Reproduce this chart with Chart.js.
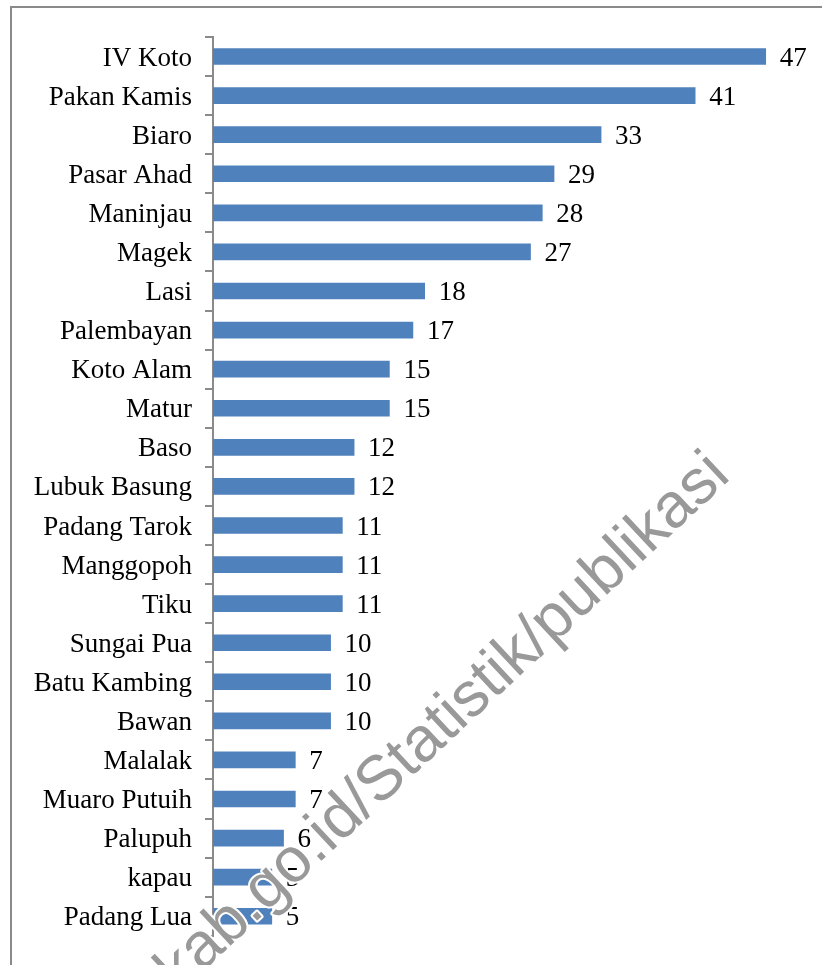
<!DOCTYPE html>
<html>
<head>
    <title>Jumlah per Nagari</title>
    <script src="https://cdn.jsdelivr.net/npm/chart.js"></script>
    <style>
        body { margin: 0; overflow: hidden; background: #fff; }
        #frame { position: absolute; left: 10px; top: 6px; width: 900px; height: 1000px; border: 2px solid #8a8a8a; }
        #wrap { position: absolute; left: 0; top: 0; width: 822px; height: 965px; }
    </style>
</head>
<body>
    <div id="frame"></div>
    <div id="wrap"><canvas id="myChart" width="822" height="965"></canvas></div>
    <script>
        const categories = ['IV Koto', 'Pakan Kamis', 'Biaro', 'Pasar Ahad', 'Maninjau', 'Magek', 'Lasi',
            'Palembayan', 'Koto Alam', 'Matur', 'Baso', 'Lubuk Basung', 'Padang Tarok', 'Manggopoh', 'Tiku',
            'Sungai Pua', 'Batu Kambing', 'Bawan', 'Malalak', 'Muaro Putuih', 'Palupuh', 'kapau', 'Padang Lua'];
        const values = [47, 41, 33, 29, 28, 27, 18, 17, 15, 15, 12, 12, 11, 11, 11, 10, 10, 10, 7, 7, 6, 5, 5];
        const watermark = 'agamkab.go.id/Statistik/publikasi';

        const serif = '"Liberation Serif", "Times New Roman", serif';

        // value labels at the end of each bar
        const valueLabels = {
            id: 'valueLabels',
            afterDatasetsDraw(chart) {
                const ctx = chart.ctx;
                const meta = chart.getDatasetMeta(0);
                ctx.save();
                ctx.font = '27px ' + serif;
                ctx.fillStyle = '#000';
                ctx.textAlign = 'left';
                ctx.textBaseline = 'middle';
                meta.data.forEach((bar, i) => {
                    ctx.fillText(values[i], bar.x + 14, bar.y + 2);
                });
                ctx.restore();
            }
        };

        const watermarkText = {
            id: 'watermarkText',
            afterDraw(chart) {
                const ctx = chart.ctx;
                ctx.save();
                ctx.translate(732, 478);
                ctx.rotate(-43 * Math.PI / 180);
                ctx.font = '63px "Liberation Sans", Arial, sans-serif';
                ctx.textAlign = 'right';
                ctx.textBaseline = 'alphabetic';
                ctx.lineJoin = 'round';
                ctx.strokeStyle = '#fff';
                ctx.lineWidth = 4;
                ctx.strokeText(watermark, 0, 0);
                ctx.fillStyle = '#999999';
                ctx.fillText(watermark, 0, 0);
                ctx.restore();
            }
        };

        const ctx = document.getElementById('myChart').getContext('2d');
        new Chart(ctx, {
            type: 'bar',
            data: {
                labels: categories,
                datasets: [{
                    data: values,
                    backgroundColor: '#4F81BD',
                    barThickness: 16
                }]
            },
            options: {
                indexAxis: 'y',
                responsive: false,
                animation: false,
                layout: { padding: { left: 0, right: 21, top: 37, bottom: 24 } },
                plugins: {
                    legend: { display: false },
                    tooltip: { enabled: false }
                },
                scales: {
                    x: { display: false, min: 0, max: 50 },
                    y: {
                        afterFit(scale) { scale.width = 213; },
                        grid: { drawOnChartArea: false, tickLength: 8, color: '#8a8a8a', lineWidth: 2 },
                        border: { color: '#8a8a8a', width: 2 },
                        ticks: {
                            autoSkip: false,
                            padding: 13,
                            labelOffset: 2,
                            color: '#000',
                            font: { family: serif, size: 27 }
                        }
                    }
                }
            },
            plugins: [valueLabels, watermarkText]
        });
    </script>
</body>
</html>
